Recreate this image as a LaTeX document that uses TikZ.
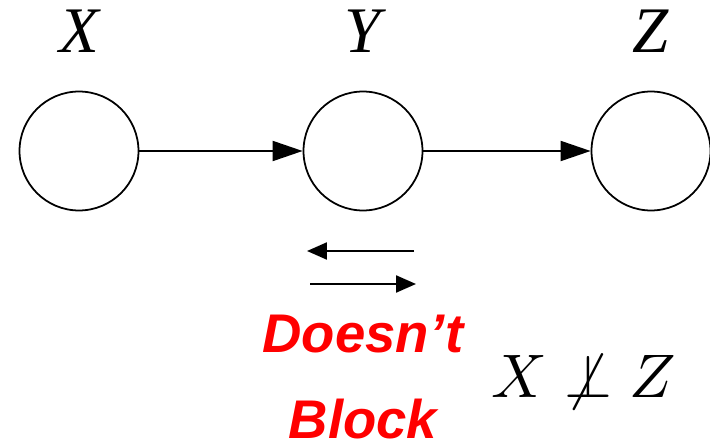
\documentclass[tikz,border=0pt]{standalone}
\usepackage{fontspec}
\usepackage{tikz}
\usetikzlibrary{arrows.meta,positioning}
\newfontfamily\labelfont{Liberation Serif}
\newfontfamily\notefont{Liberation Sans}
\definecolor{notered}{HTML}{FF0000}
\tikzset{
  var/.style={circle,draw,line width=1pt,minimum size=2.38cm,inner sep=0pt},
  varlabel/.style={font=\labelfont\itshape\fontsize{37}{40}\selectfont,anchor=base,inner sep=0pt},
  edge/.style={line width=1.1pt,-{Triangle[length=0.6cm,width=0.4cm]}},
  flow/.style={line width=1.3pt,-{Triangle[length=0.4cm,width=0.34cm]}}
}
\begin{document}
\begin{tikzpicture}[x=0.02cm,y=-0.02cm]
\useasboundingbox (0,0) rectangle (710,442);
\node[var] (x) at (79,151) {};
\node[var] (y) at (363,151) {};
\node[var] (z) at (651,151) {};
\node[varlabel] (xl) at (79,53) {X};
\node[varlabel] (yl) at (363,53) {Y};
\node[varlabel] (zl) at (651,53) {Z};
\draw[edge] (x) -- (y);
\draw[edge] (y) -- (z);
% flow both ways
\coordinate (ta) at (414,251); \coordinate (tb) at (307,251);
\coordinate (ba) at (310,284); \coordinate (bb) at (416,284);
\draw[flow] (ta) -- (tb);
\draw[flow] (ba) -- (bb);
\node[font=\notefont\bfseries\itshape\fontsize{31}{48.4}\selectfont,text=notered,align=center,anchor=base,inner sep=0pt] (note) at (363,438) {Doesn’t\\Block};
\node[anchor=base west,inner sep=0pt] (indep) at (491,397) {\scalebox{3.5}{$X\not\perp Z$}};
\end{tikzpicture}
\end{document}
